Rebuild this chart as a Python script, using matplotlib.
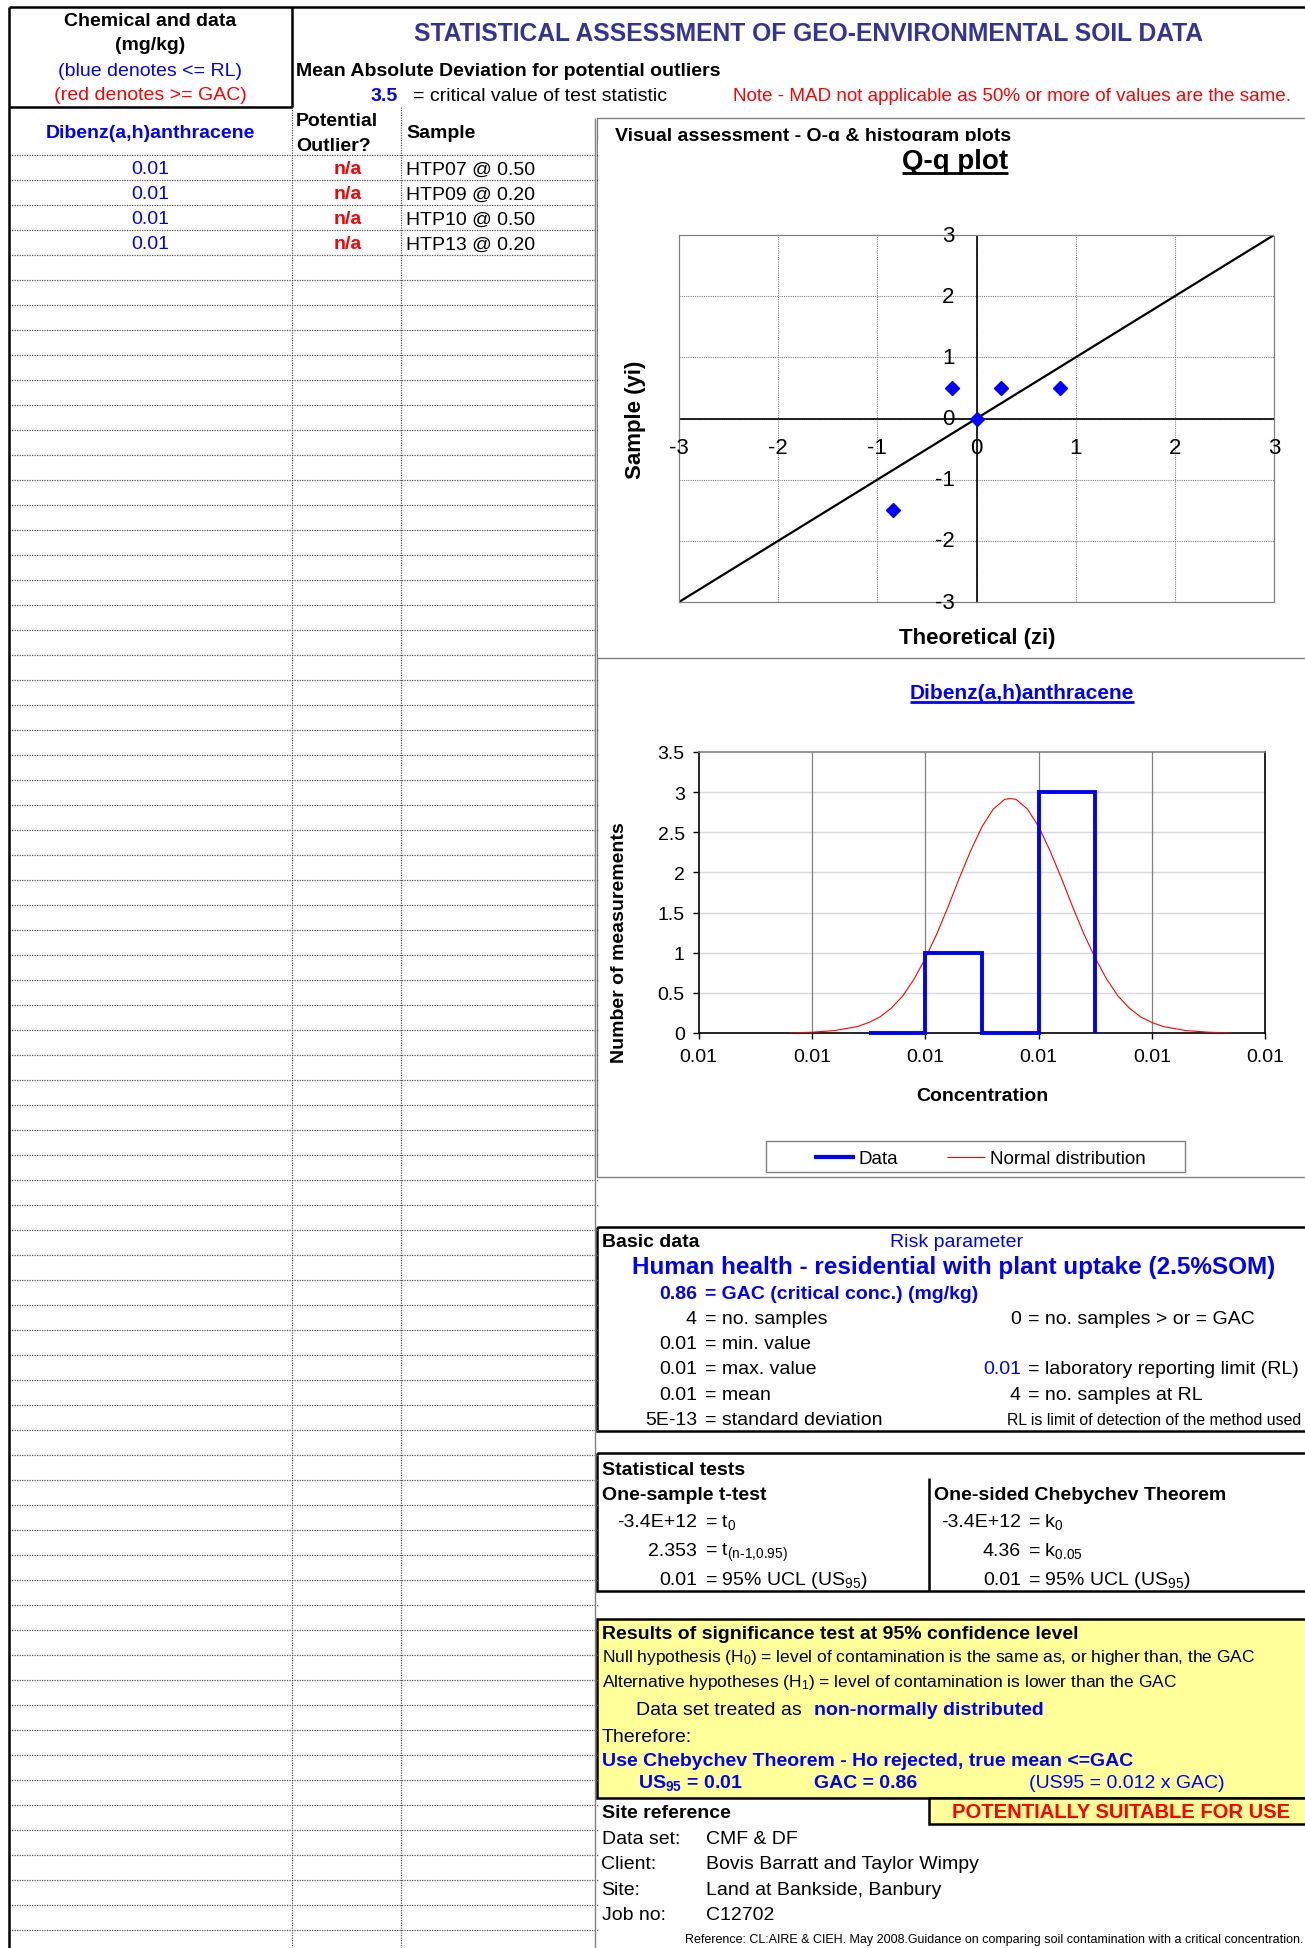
import matplotlib
matplotlib.use('Agg')
import matplotlib.pyplot as plt
from matplotlib.patches import Rectangle
from matplotlib.transforms import offset_copy

plt.rcParams['font.family'] = ['Liberation Sans', 'DejaVu Sans']
plt.rcParams['mathtext.fontset'] = 'custom'
plt.rcParams['mathtext.rm'] = 'Liberation Sans'
plt.rcParams['mathtext.it'] = 'Liberation Sans:italic'
plt.rcParams['mathtext.bf'] = 'Liberation Sans:bold'

W, H = 1305, 1949

BLUE = '#0000FF'
RED = '#FF0000'
NAVY = '#333399'
YELLOW = '#FFFF99'
GREY = '#808080'

# ---- data ----
chemical = 'Dibenz(a,h)anthracene'
concentrations = ['0.01', '0.01', '0.01', '0.01']
outlier_flags = ['n/a', 'n/a', 'n/a', 'n/a']
samples = ['HTP07 @ 0.50', 'HTP09 @ 0.20', 'HTP10 @ 0.50', 'HTP13 @ 0.20']

# Q-q plot
qq_theoretical = [-0.84, -0.25, 0.0, 0.25, 0.84]
qq_sample = [-1.5, 0.5, 0.0, 0.5, 0.5]
qq_ticks = [-3, -2, -1, 0, 1, 2, 3]

# histogram
hist_edges = [1.5, 2.0, 2.5, 3.0, 3.5]
hist_counts = [0, 1, 0, 3]
conc_ticks = [0, 1, 2, 3, 4, 5]
conc_labels = ['0.01', '0.01', '0.01', '0.01', '0.01', '0.01']
count_ticks = [0, 0.5, 1, 1.5, 2, 2.5, 3, 3.5]
count_labels = ['0', '0.5', '1', '1.5', '2', '2.5', '3', '3.5']
normal_x = [0.8, 1.0, 1.2, 1.4, 1.5, 1.6, 1.7, 1.8, 1.9, 2.0, 2.1, 2.2, 2.3,
            2.4, 2.5, 2.6, 2.7, 2.75, 2.8, 2.9, 3.0, 3.1, 3.2, 3.3, 3.4, 3.5,
            3.6, 3.7, 3.8, 3.9, 4.0, 4.1, 4.3, 4.5, 4.7]
normal_y = [0.0, 0.01, 0.03, 0.08, 0.13, 0.20, 0.31, 0.46, 0.67, 0.93, 1.23,
            1.57, 1.93, 2.27, 2.57, 2.79, 2.91, 2.92, 2.91, 2.79, 2.57, 2.27,
            1.93, 1.57, 1.23, 0.93, 0.67, 0.46, 0.31, 0.20, 0.13, 0.08, 0.03,
            0.01, 0.0]

# summary tables
basic_left = [('4', '= no. samples'), ('0.01', '= min. value'),
              ('0.01', '= max. value'), ('0.01', '= mean'),
              ('5E-13', '= standard deviation')]
basic_right = [('0', '= no. samples > or = GAC', 'black'), None,
               ('0.01', '= laboratory reporting limit (RL)', BLUE),
               ('4', '= no. samples at RL', 'black')]
t_test = [('-3.4E+12', '= t$_0$'),
          ('2.353', r'= t$_{\text{(n-1,0.95)}}$'),
          ('0.01', '= 95% UCL (US$_{95}$)')]
cheb_test = [('-3.4E+12', '= k$_0$'),
             ('4.36', '= k$_{0.05}$'),
             ('0.01', '= 95% UCL (US$_{95}$)')]
site_info = [('Data set:', 'CMF & DF'),
             ('Client:', 'Bovis Barratt and Taylor Wimpy'),
             ('Site:', 'Land at Bankside, Banbury'),
             ('Job no:', 'C12702')]


def px_rect(x0, y0, x1, y1):
    return [x0 / W, 1 - y1 / H, (x1 - x0) / W, (y1 - y0) / H]


fig = plt.figure(figsize=(W / 100, H / 100), dpi=100)
bg = fig.add_axes([0, 0, 1, 1])
bg.set_xlim(0, W)
bg.set_ylim(H, 0)
bg.axis('off')


def put(x, cy, s, size=14, color='black', bold=False, ha='left', **kw):
    # cy is the middle of the capital letters
    base = cy + 0.358 * size * 100 / 72
    return bg.text(x, base, s, fontsize=size, color=color,
                   fontweight='bold' if bold else 'normal',
                   ha=ha, va='baseline', **kw)


def underline(t, gap, lw, color):
    r = fig.canvas.get_renderer()
    bb = t.get_window_extent(renderer=r)
    inv = bg.transData.inverted()
    x0 = inv.transform((bb.x0, bb.y0))[0]
    x1 = inv.transform((bb.x1, bb.y0))[0]
    yb = t.get_position()[1] + gap
    bg.plot([x0, x1], [yb, yb], color=color, lw=lw, solid_capstyle='butt',
            zorder=t.get_zorder())


def line(xs, ys, **kw):
    kw.setdefault('solid_capstyle', 'butt')
    bg.plot(xs, ys, **kw)


# ---- left table ----
dotted = dict(color='#555555', lw=0.9, ls=(0, (1, 1)))
for k in range(72):
    y = 155.5 + 25 * k
    line([9, 598], [y, y], **dotted)
for x in (292, 401):
    line([x, x], [108, H], **dotted)
line([595, 595], [119, H], color=GREY, lw=1)

line([9, W], [8, 8], color='black', lw=1.8)
line([9, 9], [8, H], color='black', lw=1.8)
line([292, 292], [8, 108], color='black', lw=1.8)
line([9, 292], [108, 108], color='black', lw=1.8)

put(150, 19, 'Chemical and data', bold=True, ha='center')
put(150, 43.5, '(mg/kg)', bold=True, ha='center')
put(150, 69.5, '(blue denotes <= RL)', color=BLUE, ha='center')
put(150, 93, '(red denotes >= GAC)', color=RED, ha='center')

put(809, 32, 'STATISTICAL ASSESSMENT OF GEO-ENVIRONMENTAL SOIL DATA',
    size=17.7, color=NAVY, bold=True, ha='center')
put(296, 69.5, 'Mean Absolute Deviation for potential outliers', bold=True)
put(398, 94.5, '3.5', color=BLUE, bold=True, ha='right')
put(413, 94.5, '= critical value of test statistic')
put(733, 94.5, 'Note - MAD not applicable as 50% or more of values are the same.',
    size=13.6, color=RED)

put(150, 131.5, chemical, color=BLUE, bold=True, ha='center')
put(296, 119, 'Potential', bold=True)
put(296, 144, 'Outlier?', bold=True)
put(406, 131.5, 'Sample', bold=True)

for i, (c, f, s) in enumerate(zip(concentrations, outlier_flags, samples)):
    cy = 167.5 + 25 * i
    put(150, cy, c, color=BLUE, ha='center')
    put(348, cy, f, color=RED, bold=True, ha='center')
    put(406, cy, s)

# ---- chart area ----
bg.add_patch(Rectangle((597, 119), 730, 1059, fill=False, ec=GREY, lw=1))
line([597, W], [659, 659], color=GREY, lw=1)
bg.text(615, 141, 'Visual assessment - Q-q & histogram plots', fontsize=14,
        fontweight='bold', va='baseline')
bg.add_patch(Rectangle((598, 141.5), 720, 516.5, fc='white', ec='none',
                       zorder=3))
t_qq = bg.text(955, 169, 'Q-q plot', fontsize=20, fontweight='bold',
               ha='center', va='baseline', zorder=4)
underline(t_qq, 4.5, 2, 'black')

ax_qq = fig.add_axes(px_rect(679, 236, 1274, 603))
ax_qq.set_xlim(-3, 3)
ax_qq.set_ylim(-3, 3)
for v in qq_ticks[1:-1]:
    ax_qq.axvline(v, color=GREY, lw=0.8, ls=(0, (1, 1)))
    ax_qq.axhline(v, color=GREY, lw=0.8, ls=(0, (1, 1)))
for sp in ax_qq.spines.values():
    sp.set_color(GREY)
    sp.set_linewidth(0.9)
    sp.set_linestyle((0, (1, 1)))
ax_qq.axhline(0, color='black', lw=1.2)
ax_qq.axvline(0, color='black', lw=1.2)
ax_qq.plot([qq_ticks[0], qq_ticks[-1]], [qq_ticks[0], qq_ticks[-1]],
           color='black', lw=1.6)
ax_qq.plot(qq_theoretical, qq_sample, ls='none', marker='D', ms=7.5,
           color=BLUE, zorder=5)
ax_qq.set_xticks([])
ax_qq.set_yticks([])
ytr = offset_copy(ax_qq.transData, fig=fig, x=-22, y=0, units='dots')
xtr = offset_copy(ax_qq.transData, fig=fig, x=0, y=-29, units='dots')
for v in qq_ticks:
    ax_qq.text(0, v, str(v), transform=ytr, fontsize=16, ha='right',
               va='center', clip_on=False)
    ax_qq.text(v, 0, str(v), transform=xtr, fontsize=16, ha='center',
               va='center', clip_on=False)
bg.text(636, 420, 'Sample (yi)', fontsize=16, fontweight='bold', rotation=90,
        ha='center', va='center')
put(977, 636, 'Theoretical (zi)', size=16, bold=True, ha='center')

# histogram
t_h = bg.text(1022, 698.5, chemical, fontsize=15, fontweight='bold',
              color=BLUE, ha='center', va='baseline')
underline(t_h, 4.5, 2, BLUE)

ax_h = fig.add_axes(px_rect(698.6, 753, 1265.4, 1034))
ax_h.set_xlim(conc_ticks[0], conc_ticks[-1])
ax_h.set_ylim(count_ticks[0], count_ticks[-1])
ax_h.set_xticks(conc_ticks)
ax_h.set_xticklabels(conc_labels)
ax_h.set_yticks(count_ticks)
ax_h.set_yticklabels(count_labels)
ax_h.tick_params(length=4, width=1, labelsize=14, direction='out')
ax_h.tick_params(axis='x', pad=7)
ax_h.tick_params(axis='y', pad=6)
for v in count_ticks[1:-1]:
    ax_h.axhline(v, color='#d9d9d9', lw=1, zorder=0)
for v in conc_ticks[1:-1]:
    ax_h.axvline(v, color=GREY, lw=0.9, zorder=0)
ax_h.spines['top'].set_color(GREY)
ax_h.spines['top'].set_linewidth(1.2)
for s in ('left', 'right', 'bottom'):
    ax_h.spines[s].set_color('black')
    ax_h.spines[s].set_linewidth(1.2)
ax_h.stairs(hist_counts, hist_edges, baseline=0, color=BLUE, lw=2.8,
            zorder=5, clip_on=False)
ax_h.plot(normal_x, normal_y, color=RED, lw=0.8, zorder=4)
bg.text(619, 943, 'Number of measurements', fontsize=14, fontweight='bold',
        rotation=90, ha='center', va='center')
put(982, 1094, 'Concentration', bold=True, ha='center')

# legend
bg.add_patch(Rectangle((766, 1142), 419, 31, fc='white', ec=GREY, lw=1))
line([814, 855], [1157.5, 1157.5], color=BLUE, lw=3)
put(858, 1157.5, 'Data', size=13.5)
line([947, 985], [1157.5, 1157.5], color=RED, lw=0.8)
put(989.5, 1157.5, 'Normal distribution', size=13.5)

# ---- basic data ----
bg.add_patch(Rectangle((597, 1228), 730, 204, fill=False, ec='black', lw=1.8))
put(601.5, 1240.5, 'Basic data', bold=True)
put(890, 1240.5, 'Risk parameter', color=BLUE)
put(632.5, 1265.5, 'Human health - residential with plant uptake (2.5%SOM)',
    size=17.5, color=BLUE, bold=True)
put(697, 1292.5, '0.86', color=BLUE, bold=True, ha='right')
put(705, 1292.5, '= GAC (critical conc.) (mg/kg)', color=BLUE, bold=True)
row_y = [1317.5, 1342.5, 1367.5, 1393, 1418]
for cy, (num, lab) in zip(row_y, basic_left):
    put(697, cy, num, ha='right')
    put(705, cy, lab)
for cy, item in zip(row_y, basic_right):
    if item is None:
        continue
    num, lab, col = item
    put(1021, cy, num, color=col, ha='right')
    put(1028, cy, lab)
put(1007, 1419.5, 'RL is limit of detection of the method used', size=11.4)

# ---- statistical tests ----
bg.add_patch(Rectangle((597, 1454), 730, 138, fill=False, ec='black', lw=1.8))
line([928.5, 928.5], [1479, 1592], color='black', lw=1.8)
put(601.5, 1468, 'Statistical tests', bold=True)
put(601.5, 1493, 'One-sample t-test', bold=True)
put(933.5, 1493, 'One-sided Chebychev Theorem', bold=True)
stat_y = [1520, 1549, 1578.5]
for cy, (num, lab), (num2, lab2) in zip(stat_y, t_test, cheb_test):
    put(697, cy, num, ha='right')
    put(705, cy, lab)
    put(1021, cy, num2, ha='right')
    put(1028, cy, lab2)

# ---- results ----
bg.add_patch(Rectangle((597, 1620), 730, 179, fc=YELLOW, ec='black', lw=1.8))
bg.add_patch(Rectangle((928.5, 1799), 400, 26, fc=YELLOW, ec='black', lw=1.8))
put(601.5, 1632, 'Results of significance test at 95% confidence level',
    bold=True)
put(601.5, 1655.5, 'Null hypothesis (H$_0$) = level of contamination is the '
    'same as, or higher than, the GAC', size=12.5)
put(601.5, 1680.5, 'Alternative hypotheses (H$_1$) = level of contamination '
    'is lower than the GAC', size=12.5)
put(636.5, 1708, 'Data set treated as')
put(814, 1708, 'non-normally distributed', color=BLUE, bold=True)
put(601.5, 1735, 'Therefore:')
put(601.5, 1759, 'Use Chebychev Theorem - Ho rejected, true mean <=GAC',
    color=BLUE, bold=True)
put(637.5, 1781, r'US$_{\mathbf{95}}$ = 0.01', color=BLUE, bold=True)
put(814, 1781, 'GAC = 0.86', color=BLUE, bold=True)
put(1029, 1781, '(US95 = 0.012 x GAC)', color=BLUE)
put(1121, 1811, 'POTENTIALLY SUITABLE FOR USE', size=14.5, color=RED,
    bold=True, ha='center')

# ---- site reference ----
put(601.5, 1811, 'Site reference', bold=True)
for i, (lab, val) in enumerate(site_info):
    cy = 1837 + 25.3 * i
    put(601.5, cy, lab)
    put(706, cy, val)
put(1303, 1939, 'Reference: CL:AIRE & CIEH. May 2008.Guidance on comparing '
    'soil contamination with a critical concentration.', size=9.0, ha='right')

fig.savefig('out.png', dpi=100)
